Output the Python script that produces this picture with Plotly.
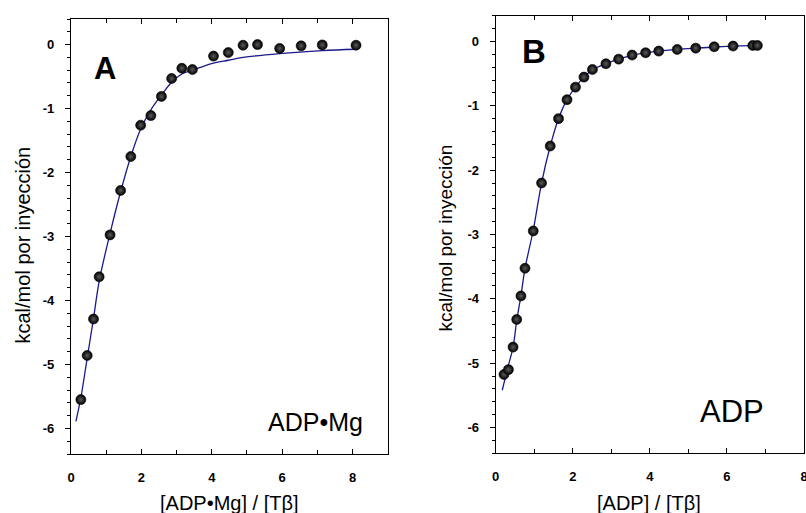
import plotly.graph_objects as go

W, H = 806, 513

# ---------------- data: panel A (ADP•Mg) ----------------
a_x = [0.28, 0.46, 0.64, 0.80, 1.11, 1.41, 1.70, 1.98, 2.27, 2.57, 2.86, 3.15, 3.45,
       4.05, 4.47, 4.89, 5.30, 5.93, 6.54, 7.14, 8.10]
a_y = [-5.55, -4.86, -4.29, -3.63, -2.975, -2.28, -1.75, -1.26, -1.11, -0.81, -0.53, -0.37, -0.39,
       -0.18, -0.125, -0.01, 0.0, -0.06, -0.02, -0.005, -0.01]
a_fit_x = [0.14, 0.28, 0.46, 0.64, 0.80, 1.11, 1.41, 1.70, 1.98, 2.27, 2.57, 2.86, 3.15, 3.45,
           4.05, 4.47, 4.89, 5.93, 7.14, 8.10]
a_fit_y = [-5.89, -5.52, -4.90, -4.28, -3.70, -2.95, -2.30, -1.75, -1.32, -1.02, -0.79, -0.59,
           -0.46, -0.40, -0.29, -0.245, -0.20, -0.14, -0.094, -0.073]

# ---------------- data: panel B (ADP) ----------------
b_x = [0.215, 0.33, 0.45, 0.545, 0.655, 0.76, 0.975, 1.19, 1.415, 1.63, 1.85, 2.07, 2.29, 2.51,
       2.86, 3.19, 3.54, 3.89, 4.23, 4.71, 5.19, 5.67, 6.16, 6.67, 6.79]
b_y = [-5.175, -5.10, -4.75, -4.32, -3.955, -3.525, -2.945, -2.20, -1.625, -1.20, -0.905, -0.71,
       -0.554, -0.435, -0.347, -0.275, -0.212, -0.176, -0.15, -0.124, -0.104, -0.083, -0.072,
       -0.062, -0.062]
b_fit_x = [0.17, 0.30, 0.45, 0.545, 0.655, 0.76, 0.975, 1.19, 1.415, 1.63, 1.85, 2.07, 2.29, 2.51,
           2.86, 3.19, 3.54, 3.89, 4.23, 4.71, 5.19, 5.67, 6.16, 6.67, 6.79]
b_fit_y = [-5.42, -5.10, -4.75, -4.34, -3.95, -3.53, -2.93, -2.20, -1.625, -1.20, -0.905, -0.71,
           -0.555, -0.44, -0.345, -0.275, -0.215, -0.178, -0.15, -0.124, -0.104, -0.086, -0.074,
           -0.064, -0.062]

# ---------------- ticks ----------------
y_tickvals = [-6, -5, -4, -3, -2, -1, 0]
y_ticktext = ["-6", "-5", "-4", "-3", "-2", "-1", "0"]
x_tickvals = [0, 2, 4, 6, 8]
x_ticktext = ["0", "2", "4", "6", "8"]

FONT = "Liberation Sans, Arial, Helvetica, sans-serif"
LINE_BLUE = "#1a1a8c"

marker = dict(size=10, color="#000000", symbol="circle",
              gradient=dict(type="radial", color="#5a5a5a"),
              line=dict(width=0.6, color="#000000"))

fig = go.Figure()
fig.add_trace(go.Scatter(x=a_fit_x, y=a_fit_y, mode="lines", line=dict(color=LINE_BLUE, width=1.3, shape="spline"),
                         xaxis="x", yaxis="y", showlegend=False))
fig.add_trace(go.Scatter(x=a_x, y=a_y, mode="markers", marker=marker, xaxis="x", yaxis="y", showlegend=False))
fig.add_trace(go.Scatter(x=b_fit_x, y=b_fit_y, mode="lines", line=dict(color=LINE_BLUE, width=1.3, shape="spline"),
                         xaxis="x2", yaxis="y2", showlegend=False))
fig.add_trace(go.Scatter(x=b_x, y=b_y, mode="markers", marker=marker, xaxis="x2", yaxis="y2", showlegend=False))


def px(v):
    return v / W


def py(v):
    return 1 - v / H


def bold(lst):
    return ["<b>" + s + "</b>" for s in lst]


tickfont = dict(family=FONT, size=13, color="black")

xcommon = dict(range=[0, 9], tickvals=x_tickvals, ticktext=bold(x_ticktext), ticks="inside", ticklen=5,
               tickwidth=1, tickcolor="black", minor=dict(dtick=1, ticks="inside", ticklen=4, tickcolor="black"),
               mirror="ticks", showline=True, linecolor="black", linewidth=1.3, showgrid=False,
               zeroline=False, tickfont=tickfont, ticklabelstandoff=11, ticklabeloverflow="allow",
               automargin=False, fixedrange=True)
ycommon = dict(range=[-6.4, 0.4], tickvals=y_tickvals, ticktext=bold(y_ticktext), ticks="outside", ticklen=5,
               tickwidth=1, tickcolor="black", minor=dict(dtick=0.2, tick0=0, ticks="outside", ticklen=3, tickcolor="black"),
               mirror=True, showline=True, linecolor="black", linewidth=1.3, showgrid=False,
               zeroline=False, tickfont=tickfont, ticklabelstandoff=8, automargin=False, fixedrange=True)
yright = dict(range=[-6.4, 0.4], tickvals=y_tickvals, ticks="inside", ticklen=5, tickwidth=1, tickcolor="black",
              minor=dict(dtick=0.2, tick0=0, ticks="inside", ticklen=4, tickcolor="black"),
              showticklabels=False, showline=False, showgrid=False, zeroline=False, side="right",
              automargin=False, fixedrange=True)

fig.update_layout(
    width=W, height=H,
    margin=dict(l=0, r=0, t=0, b=0),
    paper_bgcolor="white", plot_bgcolor="white",
    font=dict(family=FONT, color="black"),
    xaxis=dict(domain=[px(71), px(387.7)], anchor="y", **xcommon),
    yaxis=dict(domain=[py(454), py(19)], anchor="x", **ycommon),
    xaxis2=dict(domain=[px(495.7), px(804)], anchor="y2", **{**xcommon, "range": [0, 8]}),
    yaxis2=dict(domain=[py(453.3), py(15.7)], anchor="x2", **ycommon),
    yaxis3=dict(overlaying="y", anchor="x", **yright),
    yaxis4=dict(overlaying="y2", anchor="x2", **yright),
)

ann = [
    dict(text="<b>A</b>", x=px(105.5), y=py(68), font=dict(size=31)),
    dict(text="<b>B</b>", x=px(533.5), y=py(51.3), font=dict(size=33)),
    dict(text="ADP•Mg", x=px(365), y=py(422), xanchor="right", font=dict(size=25)),
    dict(text="ADP", x=px(766), y=py(411), xanchor="right", font=dict(size=31)),
    dict(text="kcal/mol por inyección", x=px(22), y=py(245.5), textangle=-90, font=dict(size=20)),
    dict(text="kcal/mol por inyección", x=px(445), y=py(238.5), textangle=-90, font=dict(size=19)),
    dict(text="[ADP•Mg] / [Tβ]", x=px(229.5), y=py(503), font=dict(size=20)),
    dict(text="[ADP] / [Tβ]", x=px(649), y=py(503), font=dict(size=20)),
]
for a in ann:
    a.setdefault("xanchor", "center")
    a["yanchor"] = "middle"
    a["xref"] = "paper"
    a["yref"] = "paper"
    a["showarrow"] = False
    a["font"] = dict(family=FONT, color="black", **a["font"])
    fig.add_annotation(**a)

fig.write_html("out.html", config={"displayModeBar": False},
               post_script="document.body.style.margin='0';document.body.style.overflow='hidden';")
